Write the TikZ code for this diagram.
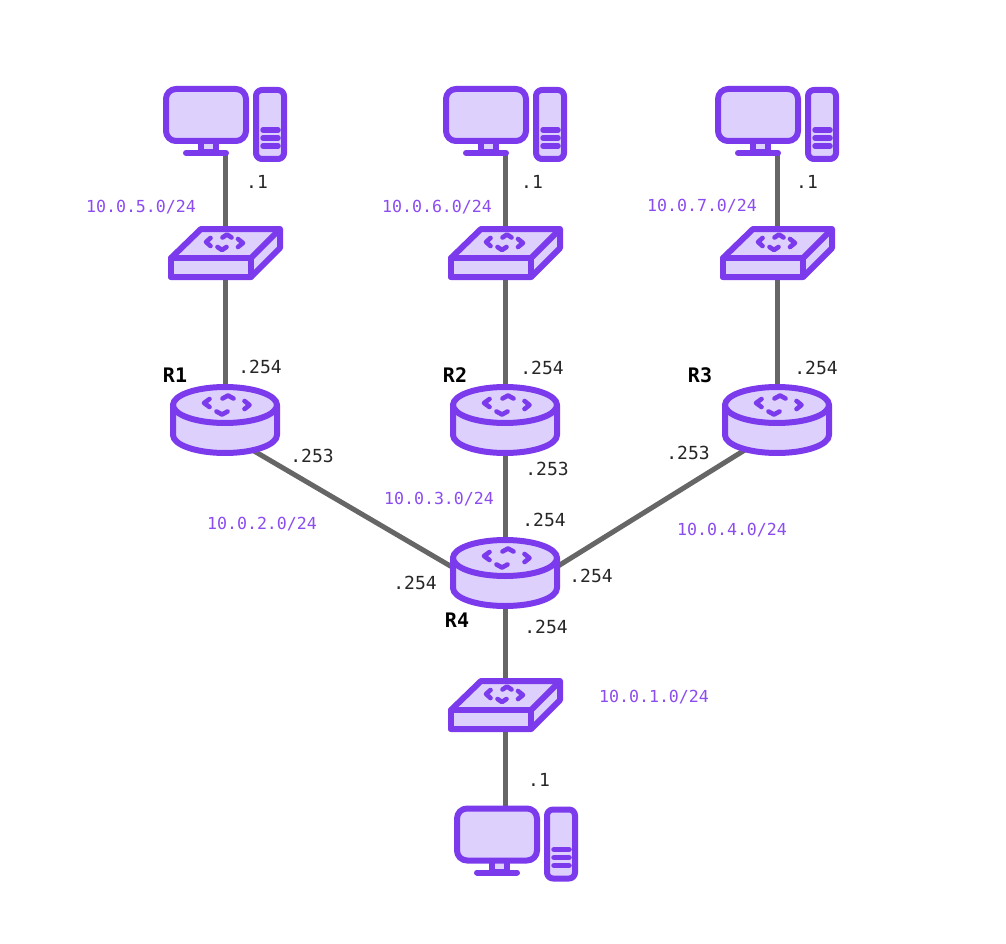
\documentclass[tikz,border=0pt]{standalone}
\usepackage{fontspec}
\setmonofont{DejaVu Sans Mono}
\usepackage{tikz}
\usetikzlibrary{calc,positioning}
\definecolor{devline}{HTML}{7C3AED}
\definecolor{devfill}{HTML}{DDD0FD}
\definecolor{wire}{HTML}{666666}
\definecolor{nettext}{HTML}{8B4CF0}
\tikzset{
	devbox/.style={rectangle,inner sep=0pt,outer sep=0pt},
	link/.style={draw=wire,line width=5pt},
	dev/.style={draw=devline,fill=devfill,line width=6pt,line join=round},
	glyph/.style={draw=devline,line width=4.6pt,line join=round,line cap=round},
	netlabel/.style={text=nettext,font=\ttfamily\fontsize{16.6}{20}\selectfont,inner sep=0pt},
	iplabel/.style={text=black!85,font=\ttfamily\fontsize{18}{20}\selectfont,inner sep=0pt},
	rtrlabel/.style={text=black,font=\ttfamily\bfseries\fontsize{20}{22}\selectfont,inner sep=0pt},
	pics/computer/.style={code={
		\draw[dev] (-24,20) rectangle (-9,32);
		\draw[dev,rounded corners=10pt] (-59,-31.5) rectangle (21,20.5);
		\draw[devline,line width=6pt,line cap=round] (-39,32.5) -- (1,32.5);
		\draw[dev,rounded corners=6pt] (31,-30.5) rectangle (59,38.5);
		\foreach \ybar in {9.5,17.5,25.5}
			\draw[devline,line width=5.5pt,line cap=round] (38,\ybar) -- (53,\ybar);
	}},
	pics/switchbox/.style={code={
		\draw[dev] (-54,5) -- (-24,-24) -- (55,-24) -- (55,-5) -- (26,24) -- (-54,24) -- cycle;
		\draw[dev] (-54,5) rectangle (26,24);
		\draw[dev] (26,5) -- (55,-24);
		\draw[glyph] (-2.5,-15.5) -- (2,-18.5) -- (6.5,-15.5);
		\draw[glyph] (-14.5,-15) -- (-19,-11) -- (-14.5,-7);
		\draw[glyph] (13,-14) -- (18,-10) -- (13,-6);
		\draw[glyph] (-7.5,-6) -- (-3,-3) -- (1.5,-6);
	}},
	pics/router/.style={code={
		\draw[dev] (-52,-15) -- (-52,15) arc[start angle=180,end angle=360,x radius=52pt,y radius=18pt] -- (52,-15) -- cycle;
		\draw[dev] (0,-15) ellipse [x radius=52pt,y radius=18pt];
		\draw[glyph] (-2.5,-21.5) -- (3,-24.5) -- (8.5,-21.5);
		\draw[glyph] (-15.5,-21) -- (-21,-17) -- (-15.5,-13);
		\draw[glyph] (19.5,-19) -- (24.5,-15) -- (19.5,-11);
		\draw[glyph] (-8.5,-8.5) -- (-3,-5.5) -- (2.5,-8.5);
	}},
}
\begin{document}
\begin{tikzpicture}[x=1pt,y=-1pt]
\useasboundingbox (0,0) rectangle (1006,944);

\node (pc1) at (225,120.5) [devbox,minimum width=124pt,minimum height=69pt] {};
\node (pc2) at (505,120.5) [devbox,minimum width=124pt,minimum height=69pt] {};
\node (pc3) at (777,120.5) [devbox,minimum width=124pt,minimum height=69pt] {};
\node (pc4) at (516,840) [devbox,minimum width=124pt,minimum height=69pt] {};

\node (sw1) at (225,253) [devbox,minimum width=114pt,minimum height=54pt] {};
\node (sw2) at (505,253) [devbox,minimum width=114pt,minimum height=54pt] {};
\node (sw3) at (777,253) [devbox,minimum width=114pt,minimum height=54pt] {};
\node (sw4) at (505,705) [devbox,minimum width=114pt,minimum height=54pt] {};

\node (r1) at (225,420) [devbox,minimum width=110pt,minimum height=72pt] {};
\node (r2) at (505,420) [devbox,minimum width=110pt,minimum height=72pt] {};
\node (r3) at (777,420) [devbox,minimum width=110pt,minimum height=72pt] {};
\node (r4) at (505,573) [devbox,minimum width=110pt,minimum height=72pt] {};

% links first, the icons go over them
\draw[link] (sw1) -- (sw1 |- pc1.south);
\draw[link] (sw2) -- (sw2 |- pc2.south);
\draw[link] (sw3) -- (sw3 |- pc3.south);
\draw[link] (sw4) -- (sw4 |- pc4.north);

\draw[link] (sw1) -- (r1);
\draw[link] (sw2) -- (r2);
\draw[link] (sw3) -- (r3);
\draw[link] (r4) -- (sw4);

\draw[link] ([yshift=-14pt]r1.center) -- ([yshift=-25pt]r4.center);
\draw[link] (r2) -- (r4);
\draw[link] ([yshift=-10pt]r3.center) -- ([yshift=-26pt]r4.center);

\pic at (pc1) {computer};
\pic at (pc2) {computer};
\pic at (pc3) {computer};
\pic at (pc4) {computer};

\pic at (sw1) {switchbox};
\pic at (sw2) {switchbox};
\pic at (sw3) {switchbox};
\pic at (sw4) {switchbox};

\pic at (r1) {router};
\pic at (r2) {router};
\pic at (r3) {router};
\pic at (r4) {router};

\node (rn1) at (175,375) [rtrlabel] {R1};
\node (rn2) at (455,375) [rtrlabel] {R2};
\node (rn3) at (700,375) [rtrlabel] {R3};
\node (rn4) at (457,620) [rtrlabel] {R4};

\node (net5) at (141,207) [netlabel] {10.0.5.0/24};
\node (net6) at (437,207) [netlabel] {10.0.6.0/24};
\node (net7) at (702,206) [netlabel] {10.0.7.0/24};
\node (net2) at (262,524) [netlabel] {10.0.2.0/24};
\node (net3) at (439,499) [netlabel] {10.0.3.0/24};
\node (net4) at (732,530) [netlabel] {10.0.4.0/24};
\node (net1) at (654,697) [netlabel] {10.0.1.0/24};

\node (ip1) at (257,182) [iplabel] {.1};
\node (ip2) at (532,182) [iplabel] {.1};
\node (ip3) at (807,182) [iplabel] {.1};
\node (ip4) at (539,780) [iplabel] {.1};
\node (ip5) at (260,367) [iplabel] {.254};
\node (ip6) at (542,368) [iplabel] {.254};
\node (ip7) at (816,368) [iplabel] {.254};
\node (ip8) at (312,456) [iplabel] {.253};
\node (ip9) at (547,469) [iplabel] {.253};
\node (ip10) at (688,453) [iplabel] {.253};
\node (ip11) at (544,520) [iplabel] {.254};
\node (ip12) at (415,583) [iplabel] {.254};
\node (ip13) at (591,576) [iplabel] {.254};
\node (ip14) at (546,627) [iplabel] {.254};
\end{tikzpicture}
\end{document}
